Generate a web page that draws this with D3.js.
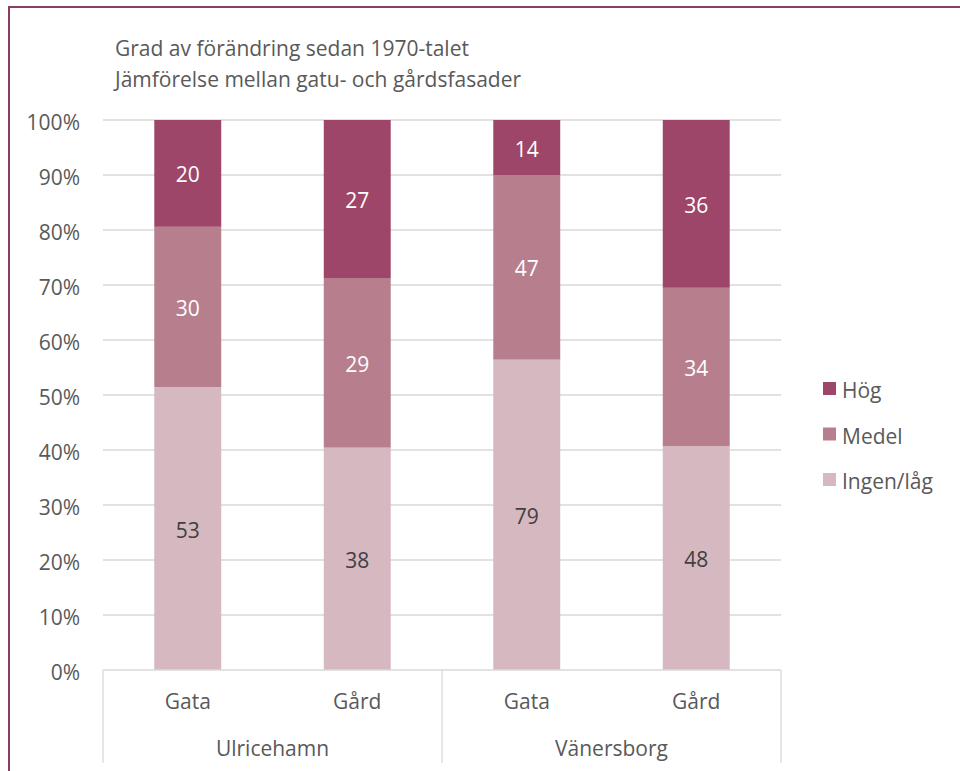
<!DOCTYPE html>
<html>
<head>
<meta charset="utf-8">
<script src="https://cdn.jsdelivr.net/npm/d3@7"></script>
<style>
  html, body { margin: 0; padding: 0; background: #fff; }
  svg { display: block; font-family: "Open Sans", "Noto Sans", sans-serif; }
</style>
</head>
<body>
<svg id="chart" width="960" height="771"></svg>
<script>
// Category structure: two towns, each with street (Gata) and courtyard (Gård) facades
const groups = ["Ulricehamn", "Vänersborg"];
const subcats = ["Gata", "Gård", "Gata", "Gård"];
const groupOf = ["Ulricehamn", "Ulricehamn", "Vänersborg", "Vänersborg"];

// Counts per degree of change, stacked bottom to top
const seriesNames = ["Ingen/låg", "Medel", "Hög"];
const ingenLag = [53, 38, 79, 48];
const medel = [30, 29, 47, 34];
const hog = [20, 27, 14, 36];

const yTicks = [0, 10, 20, 30, 40, 50, 60, 70, 80, 90, 100];
const titleLines = ["Grad av förändring sedan 1970-talet", "Jämförelse mellan gatu- och gårdsfasader"];

const colors = { "Hög": "#9E4669", "Medel": "#B77E8E", "Ingen/låg": "#D5B8C0" };
const labelColors = { "Hög": "#ffffff", "Medel": "#ffffff", "Ingen/låg": "#404040" };

const FS = "21px";
const DY = "0.43em";
const svg = d3.select("#chart");
const W = 960, H = 771;

// Outer frame
svg.append("line").attr("x1", 9).attr("x2", W).attr("y1", 7).attr("y2", 7)
  .attr("stroke", "#8E3A64").attr("stroke-width", 2);
svg.append("line").attr("x1", 9).attr("x2", 9).attr("y1", 6).attr("y2", H)
  .attr("stroke", "#8E3A64").attr("stroke-width", 2);

const plot = { left: 103, right: 781, top: 120, bottom: 670 };

const rows = subcats.map((s, i) => ({
  key: i, sub: s, group: groupOf[i],
  "Ingen/låg": ingenLag[i], "Medel": medel[i], "Hög": hog[i]
}));

const stack = d3.stack().keys(seriesNames).offset(d3.stackOffsetExpand);
const layers = stack(rows);

const x = d3.scaleBand().domain(rows.map(r => r.key))
  .range([plot.left, plot.right]).paddingInner(0.605).paddingOuter(0.3025);
const y = d3.scaleLinear().domain([0, 1]).range([plot.bottom, plot.top]);

// Gridlines
svg.append("g").selectAll("line").data(yTicks.filter(t => t > 0)).join("line")
  .attr("x1", plot.left).attr("x2", plot.right)
  .attr("y1", d => y(d / 100)).attr("y2", d => y(d / 100))
  .attr("stroke", "#D9D9D9").attr("stroke-width", 1.3);

// Y axis labels
const yAxis = d3.axisLeft(y).tickValues(yTicks.map(t => t / 100))
  .tickFormat(d3.format(".0%")).tickSize(0).tickPadding(23);
const gy = svg.append("g").attr("transform", `translate(${plot.left},0)`).call(yAxis);
gy.select(".domain").remove();
gy.selectAll("text").attr("fill", "#595959").attr("dy", DY).style("font-size", FS)
  .style("font-family", "'Open Sans', sans-serif");

// Bars
const layerG = svg.append("g").selectAll("g").data(layers).join("g")
  .attr("fill", d => colors[d.key]);
layerG.selectAll("rect").data(d => d).join("rect")
  .attr("x", d => x(d.data.key))
  .attr("width", x.bandwidth())
  .attr("y", d => y(d[1]))
  .attr("height", d => y(d[0]) - y(d[1]));

// Value labels
const lblG = svg.append("g").selectAll("g").data(layers).join("g");
lblG.selectAll("text").data(d => d.map(p => ({ p, key: d.key }))).join("text")
  .attr("x", d => x(d.p.data.key) + x.bandwidth() / 2)
  .attr("y", d => y((d.p[0] + d.p[1]) / 2))
  .attr("dy", DY)
  .attr("text-anchor", "middle")
  .attr("fill", d => labelColors[d.key])
  .style("font-size", FS)
  .text(d => d.p.data[d.key]);

// Category axis: baseline and separators
svg.append("line").attr("x1", plot.left).attr("x2", plot.right)
  .attr("y1", plot.bottom).attr("y2", plot.bottom)
  .attr("stroke", "#D9D9D9").attr("stroke-width", 1.3);
const groupBounds = [plot.left, (plot.left + plot.right) / 2, plot.right];
svg.append("g").selectAll("line").data(groupBounds).join("line")
  .attr("x1", d => d).attr("x2", d => d)
  .attr("y1", plot.bottom).attr("y2", 763)
  .attr("stroke", "#D9D9D9").attr("stroke-width", 1.3);

svg.append("g").selectAll("text").data(rows).join("text")
  .attr("x", d => x(d.key) + x.bandwidth() / 2)
  .attr("y", 700).attr("dy", DY)
  .attr("text-anchor", "middle").attr("fill", "#595959")
  .style("font-size", FS)
  .text(d => d.sub);

svg.append("g").selectAll("text").data(groups).join("text")
  .attr("x", (d, i) => (groupBounds[i] + groupBounds[i + 1]) / 2)
  .attr("y", 747).attr("dy", DY)
  .attr("text-anchor", "middle").attr("fill", "#595959")
  .style("font-size", FS)
  .text(d => d);

// Title
svg.append("g").selectAll("text").data(titleLines).join("text")
  .attr("x", 115).attr("y", (d, i) => 47 + i * 31).attr("dy", DY)
  .attr("fill", "#595959").style("font-size", FS)
  .text(d => d);

// Legend (top series first)
const legendItems = seriesNames.slice().reverse();
const lg = svg.append("g").selectAll("g").data(legendItems).join("g")
  .attr("transform", (d, i) => `translate(823, ${389 + i * 45.5})`);
lg.append("rect").attr("x", 0).attr("y", -7).attr("width", 13).attr("height", 13)
  .attr("fill", d => colors[d]);
lg.append("text").attr("x", 19).attr("y", 0).attr("dy", DY)
  .attr("fill", "#595959").style("font-size", FS)
  .text(d => d);
</script>
</body>
</html>
